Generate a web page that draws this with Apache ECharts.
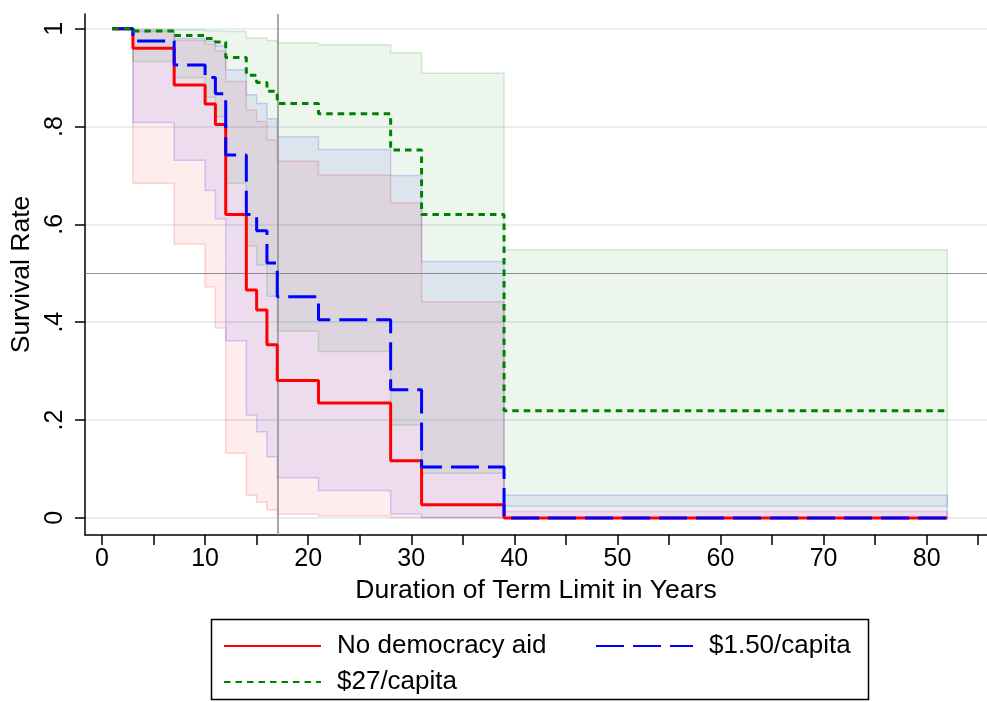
<!DOCTYPE html>
<html>
<head>
<meta charset="utf-8">
<script src="https://cdn.jsdelivr.net/npm/echarts@6/dist/echarts.min.js"></script>
<style>
  html, body { margin: 0; padding: 0; background: #ffffff; }
  #chart { width: 987px; height: 702px; }
</style>
</head>
<body>
<div id="chart"></div>
<script>
// Kaplan–Meier survival of term limits by level of democracy aid,
// with 95% confidence bands.
const times = [1, 3, 7, 10, 11, 12, 14, 15, 16, 17, 21, 28, 31, 39, 82];

const noAidSurv  = [1, 0.96, 0.885, 0.846, 0.804, 0.62, 0.466, 0.425, 0.354, 0.281, 0.235, 0.117, 0.027, 0, 0];
const noAidLower = [1, 0.684, 0.56, 0.472, 0.388, 0.132, 0.046, 0.032, 0.016, 0.0075, 0.004, 0.001, 0.0005, 0, 0];
const noAidUpper = [1, 0.994, 0.976, 0.968, 0.955, 0.892, 0.834, 0.81, 0.773, 0.729, 0.701, 0.644, 0.442, 0.013, 0.013];

const lowAidSurv  = [1, 0.975, 0.926, 0.90, 0.867, 0.742, 0.62, 0.587, 0.521, 0.452, 0.405, 0.262, 0.104, 0, 0];
const lowAidLower = [1, 0.808, 0.731, 0.669, 0.611, 0.362, 0.21, 0.176, 0.125, 0.082, 0.056, 0.008, 0.001, 0, 0];
const lowAidUpper = [1, 0.996, 0.98, 0.975, 0.965, 0.916, 0.865, 0.847, 0.816, 0.779, 0.753, 0.70, 0.524, 0.046, 0.046];

const highAidSurv  = [1, 0.995, 0.986, 0.98, 0.973, 0.941, 0.905, 0.89, 0.872, 0.847, 0.826, 0.752, 0.62, 0.219, 0.219];
const highAidLower = [1, 0.933, 0.90, 0.86, 0.82, 0.684, 0.556, 0.517, 0.453, 0.382, 0.340, 0.19, 0.091, 0.024, 0.024];
const highAidUpper = [1, 0.999, 0.998, 0.996, 0.995, 0.994, 0.981, 0.981, 0.976, 0.971, 0.967, 0.951, 0.909, 0.548, 0.548];

const groupNames = ['No democracy aid', '$1.50/capita', '$27/capita'];

const xTickValues  = [0, 5, 10, 15, 20, 25, 30, 35, 40, 45, 50, 55, 60, 65, 70, 75, 80, 85];
const xLabelValues = [0, 10, 20, 30, 40, 50, 60, 70, 80];
const yTickValues  = [0, 0.2, 0.4, 0.6, 0.8, 1];
const yTickLabels  = ['0', '.2', '.4', '.6', '.8', '1'];

const refTime = 17;      // vertical reference line
const refSurvival = 0.5; // median survival reference

const FONT = '"Liberation Sans", Arial, Helvetica, sans-serif';

function pairs(values) {
  return times.map((t, i) => [t, values[i]]);
}

// Confidence band drawn as one stepped polygon: along the upper bound
// left to right, then back along the lower bound.
function band(key, lower, upper, fill, edge, extra) {
  const s = {
    type: 'custom', name: key, silent: true, z: 1,
    data: times.map((t, i) => [t, lower[i], upper[i]]),
    encode: { x: 0, y: [1, 2] },
    renderItem: function (params, api) {
      if (params.dataIndex !== 0) return null;
      const n = times.length;
      const pts = [];
      for (let i = 0; i < n - 1; i++) {
        pts.push(api.coord([times[i], upper[i]]));
        pts.push(api.coord([times[i + 1], upper[i]]));
      }
      for (let i = n - 2; i >= 0; i--) {
        pts.push(api.coord([times[i + 1], lower[i]]));
        pts.push(api.coord([times[i], lower[i]]));
      }
      return {
        type: 'polygon',
        shape: { points: pts },
        style: { fill: fill, stroke: edge, lineWidth: 1.5 }
      };
    }
  };
  return Object.assign(s, extra || {});
}

function curve(name, values, color, dash) {
  return {
    type: 'line', name: name, step: 'end', symbol: 'none', z: 5,
    data: pairs(values),
    lineStyle: { color: color, width: 3, type: dash, cap: 'butt' },
    itemStyle: { color: color },
    emphasis: { disabled: true }
  };
}

const refLines = {
  markLine: {
    silent: true, symbol: 'none', label: { show: false },
    data: [
      { xAxis: refTime, lineStyle: { color: 'rgba(140,140,140,0.75)', width: 2, type: 'solid' } },
      { yAxis: refSurvival, lineStyle: { color: 'rgba(120,120,120,0.8)', width: 1, type: 'solid' } }
    ]
  }
};

const series = [
  band('noAid band', noAidLower, noAidUpper, 'rgba(255,0,0,0.07)', 'rgba(255,0,0,0.16)', refLines),
  band('lowAid band', lowAidLower, lowAidUpper, 'rgba(0,0,255,0.07)', 'rgba(0,0,255,0.16)'),
  band('highAid band', highAidLower, highAidUpper, 'rgba(0,128,0,0.07)', 'rgba(0,128,0,0.16)'),
  curve(groupNames[0], noAidSurv, '#ff0000', 'solid'),
  curve(groupNames[1], lowAidSurv, '#0000ff', [28, 9]),
  curve(groupNames[2], highAidSurv, '#008000', [6.5, 5])
];

function legendFor(name, left, top) {
  return {
    data: [name], left: left, top: top, padding: 0,
    itemWidth: 97, itemHeight: 20, selectedMode: false,
    itemStyle: { opacity: 0 },
    textStyle: { fontSize: 26, fontFamily: FONT, color: '#000', padding: [0, 0, 0, 11] }
  };
}

const chart = echarts.init(document.getElementById('chart'), null, { renderer: 'canvas' });
chart.setOption({
  animation: false,
  backgroundColor: '#ffffff',
  grid: { left: 85, right: 0, top: 14, bottom: 167, containLabel: false, outerBoundsMode: 'none' },
  xAxis: {
    type: 'value', min: -1.65, max: 85.85,
    name: 'Duration of Term Limit in Years',
    nameLocation: 'middle', nameGap: 42,
    nameTextStyle: { fontSize: 26.5, fontFamily: FONT, color: '#000' },
    axisLine: { show: true, onZero: false, lineStyle: { color: '#000', width: 1.5 } },
    axisTick: { show: true, length: 10, customValues: xTickValues, lineStyle: { color: '#000', width: 1.5 } },
    axisLabel: { customValues: xLabelValues, fontSize: 25, fontFamily: FONT, color: '#000', margin: 12 },
    splitLine: { show: false }
  },
  yAxis: {
    type: 'value', min: -0.035, max: 1.03,
    name: 'Survival Rate',
    nameLocation: 'middle', nameRotate: 90, nameGap: 40,
    nameTextStyle: { fontSize: 26.5, fontFamily: FONT, color: '#000' },
    axisLine: { show: true, onZero: false, lineStyle: { color: '#000', width: 1.5 } },
    axisTick: { show: true, length: 10, customValues: yTickValues, lineStyle: { color: '#000', width: 1.5 } },
    axisLabel: {
      customValues: yTickValues, rotate: 90, fontSize: 25, fontFamily: FONT, color: '#000', margin: 17,
      formatter: function (v) {
        let best = 0;
        yTickValues.forEach((t, i) => { if (Math.abs(t - v) < Math.abs(yTickValues[best] - v)) best = i; });
        return yTickLabels[best];
      }
    },
    splitLine: { show: true, lineStyle: { color: '#e7eef0', width: 2 } }
  },
  legend: [
    legendFor(groupNames[0], 223, 633),
    legendFor(groupNames[1], 595, 633),
    legendFor(groupNames[2], 223, 669)
  ],
  graphic: [{
    type: 'rect', silent: true, z: 0,
    shape: { x: 211.5, y: 619.5, width: 657, height: 80 },
    style: { fill: 'none', stroke: '#000', lineWidth: 1.5 }
  }],
  series: series
});
</script>
</body>
</html>
